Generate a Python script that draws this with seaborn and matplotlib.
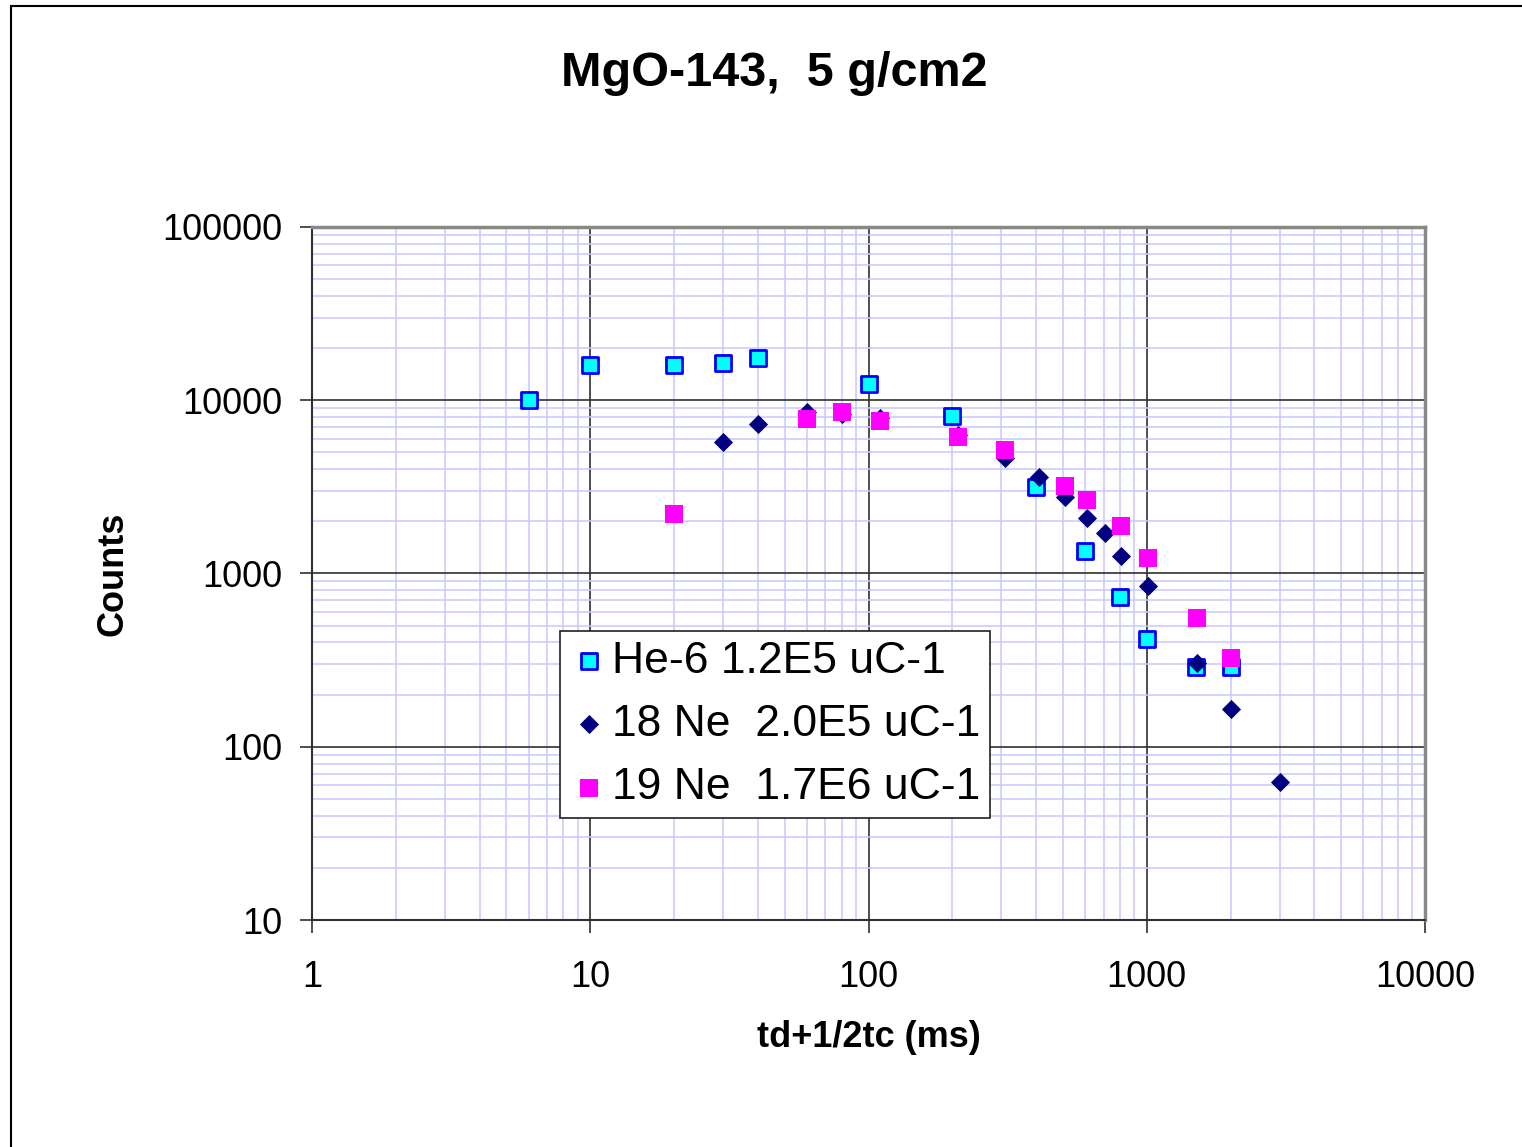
import matplotlib
matplotlib.use("Agg")
import matplotlib.pyplot as plt
import matplotlib.patches as mpatches
import seaborn as sns
import pandas as pd
from matplotlib.ticker import LogLocator, FixedLocator, NullFormatter

# He-6 1.2E5 uC-1
he6_t = [6, 10, 20, 30, 40, 100, 200, 400, 600, 800, 1000, 1500, 2000]
he6_counts = [10000, 16000, 16000, 16400, 17500, 12400, 8100, 3160, 1350, 730, 420, 290, 290]

# 18 Ne 2.0E5 uC-1
ne18_t = [30, 40, 60, 80, 110, 210, 310, 410, 510, 610, 710, 810, 1010, 1510, 2010, 3000]
ne18_counts = [5740, 7290, 8550, 8300, 7900, 6300, 4640, 3610, 2770, 2090, 1710, 1260, 850, 304, 165, 63]

# 19 Ne 1.7E6 uC-1
ne19_t = [20, 60, 80, 110, 210, 310, 510, 610, 810, 1010, 1510, 2010]
ne19_counts = [2200, 7800, 8550, 7590, 6140, 5160, 3200, 2660, 1880, 1230, 553, 325]

labels = ["He-6 1.2E5 uC-1", "18 Ne  2.0E5 uC-1", "19 Ne  1.7E6 uC-1"]

df_he6 = pd.DataFrame({"t": he6_t, "counts": he6_counts})
df_ne18 = pd.DataFrame({"t": ne18_t, "counts": ne18_counts})
df_ne19 = pd.DataFrame({"t": ne19_t, "counts": ne19_counts})

sns.set_style("white")
plt.rcParams["font.family"] = ["Liberation Sans", "DejaVu Sans"]
plt.rcParams["text.color"] = "black"
plt.rcParams["axes.labelcolor"] = "black"
plt.rcParams["xtick.color"] = "black"
plt.rcParams["ytick.color"] = "black"

fig = plt.figure(figsize=(15.22, 11.47), dpi=100)
ax = fig.add_axes([312 / 1522, 1 - 920 / 1147, 1113 / 1522, 693 / 1147])

# outer chart border (left and top visible)
fig.patches.append(mpatches.Rectangle((11 / 1522, -0.1), 1.2, 1 - 6 / 1147 + 0.1,
                                      transform=fig.transFigure, fill=False,
                                      edgecolor="black", linewidth=1.5, zorder=0))

sns.scatterplot(data=df_he6, x="t", y="counts", ax=ax, marker="s", s=140,
                color="#00FFFF", edgecolor="#0000FF", linewidth=2.0,
                label=labels[0], zorder=3)
sns.scatterplot(data=df_ne18, x="t", y="counts", ax=ax, marker="D", s=95,
                color="#000080", edgecolor="#000080", linewidth=0,
                label=labels[1], zorder=4)
sns.scatterplot(data=df_ne19, x="t", y="counts", ax=ax, marker="s", s=155,
                color="#FF00FF", edgecolor="#FF00FF", linewidth=0,
                label=labels[2], zorder=5)

ax.set_xscale("log")
ax.set_yscale("log")
ax.set_xlim(1, 10000)
ax.set_ylim(10, 100000)

ax.xaxis.set_major_locator(FixedLocator([1, 10, 100, 1000, 10000]))
ax.yaxis.set_major_locator(FixedLocator([10, 100, 1000, 10000, 100000]))
ax.set_xticklabels(["1", "10", "100", "1000", "10000"])
ax.set_yticklabels(["10", "100", "1000", "10000", "100000"])
ax.xaxis.set_minor_locator(LogLocator(base=10, subs=range(2, 10)))
ax.yaxis.set_minor_locator(LogLocator(base=10, subs=range(2, 10)))
ax.xaxis.set_minor_formatter(NullFormatter())
ax.yaxis.set_minor_formatter(NullFormatter())

ax.grid(which="minor", color="#C8C8FF", linewidth=1.1, zorder=0)
ax.grid(which="major", color="#303030", linewidth=1.2, zorder=1)
ax.set_axisbelow(True)

ax.tick_params(axis="both", which="major", direction="out", length=9, width=1.2,
               color="#303030", labelsize=26, left=True, bottom=True)
ax.tick_params(axis="x", which="major", pad=20)
ax.tick_params(axis="y", which="major", pad=12)
ax.tick_params(which="minor", length=0)

for side in ["left", "bottom"]:
    ax.spines[side].set_color("#303030")
    ax.spines[side].set_linewidth(1.5)
for side in ["top", "right"]:
    ax.spines[side].set_color("#888888")
    ax.spines[side].set_linewidth(2.5)

ax.set_xlabel("td+1/2tc (ms)", fontsize=26, fontweight="bold")
ax.set_ylabel("Counts", fontsize=26, fontweight="bold")
ax.xaxis.set_label_coords(0.5, (920 - 1020) / 693)
ax.yaxis.set_label_coords((130 - 312) / 1113, 0.5)

fig.text(774 / 1522, 1 - 74 / 1147, "MgO-143,  5 g/cm2", fontsize=35,
         fontweight="bold", ha="center", va="center")

leg = ax.legend(loc="lower left", bbox_to_anchor=((560 - 312) / 1113, (920 - 818) / 693),
                borderaxespad=0, fontsize=32, frameon=True, fancybox=False,
                handletextpad=0.1, handlelength=0.85, borderpad=0.22,
                labelspacing=0.5, markerscale=1.0)
leg.get_frame().set_edgecolor("#202020")
leg.get_frame().set_linewidth(1.2)
leg.get_frame().set_alpha(1)

fig.savefig("out.png", dpi=100)
